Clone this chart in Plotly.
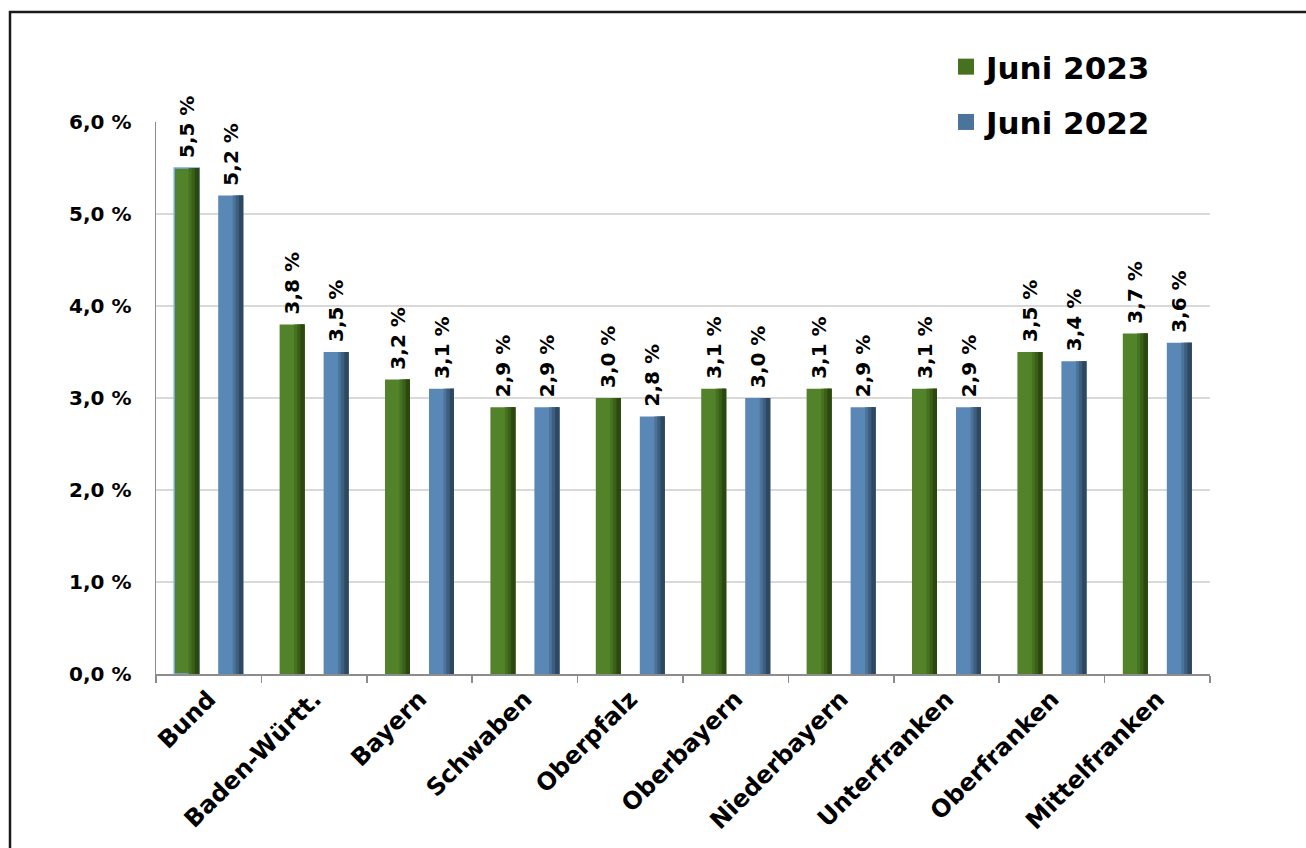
import plotly.graph_objects as go

# ---------------- data ----------------
categories = ["Bund", "Baden-Württ.", "Bayern", "Schwaben", "Oberpfalz",
              "Oberbayern", "Niederbayern", "Unterfranken", "Oberfranken", "Mittelfranken"]
values_2023 = [5.5, 3.8, 3.2, 2.9, 3.0, 3.1, 3.1, 3.1, 3.5, 3.7]
values_2022 = [5.2, 3.5, 3.1, 2.9, 2.8, 3.0, 2.9, 2.9, 3.4, 3.6]
series_names = ["Juni 2023", "Juni 2022"]
y_ticks = [0, 1, 2, 3, 4, 5, 6]
y_tick_text = [f"{v:.1f} %".replace(".", ",") for v in y_ticks]

# ---------------- style / layout (page pixel coordinates) ----------------
FW, FH = 1306, 848
PL, PR, PT, PB = 156, 1210, 122, 674      # plot area in page pixels
ML, MT = PL, PT
MR, MB = FW - PR, FH - PB
FONT = "DejaVu Sans"
bar_w = 0.237
half_gap = 0.2087

series = [
    (series_names[0], values_2023, -half_gap,
     ["#52822a", "#46721f", "#3a5f17", "#2c4710"]),
    (series_names[1], values_2022, half_gap,
     ["#5a88b6", "#4c7399", "#3e5e7d", "#2e4862"]),
]


def px_x(p):
    return (p - PL) / (PR - PL)


def px_y(p):
    return (PB - p) / (PB - PT)


fig = go.Figure()
for i, (name, vals, centre, cols) in enumerate(series):
    left = centre - bar_w / 2
    line_cols = ["#7aaae0" if (i == 0 and k == 0) else cols[0] for k in range(len(vals))]
    line_w = [1.5 if (i == 0 and k == 0) else 0 for k in range(len(vals))]
    fig.add_trace(go.Bar(
        x=categories, y=vals, name=name, showlegend=False,
        offset=left, width=bar_w, opacity=1,
        marker=dict(color=cols[0], line=dict(color=line_cols, width=line_w)),
        texttemplate="\u00a0%{y:.1f} %", textposition="outside", textangle=-90,
        textfont=dict(family=FONT, size=20, color="black", weight="bold"),
        cliponaxis=False, constraintext="none", hoverinfo="skip",
    ))
    for frac, col in [(0.42, cols[1]), (0.30, cols[2]), (0.17, cols[3])]:
        w = bar_w * frac
        fig.add_trace(go.Bar(
            x=categories, y=vals, offset=left + bar_w - w, width=w, opacity=1,
            marker=dict(color=col, line=dict(width=0)),
            showlegend=False, hoverinfo="skip",
        ))

# legend entries (larger square symbols)
for name, _, _, cols in series:
    fig.add_trace(go.Scatter(
        x=[None], y=[None], mode="markers", name=name, legendgroup=name,
        marker=dict(symbol="square", size=17, color=cols[1],
                    line=dict(width=0)),
        hoverinfo="skip",
    ))

fig.update_layout(
    width=FW, height=FH,
    margin=dict(l=ML, r=MR, t=MT, b=MB, autoexpand=False),
    barmode="overlay",
    separators=",.",
    plot_bgcolor="white", paper_bgcolor="white",
    font=dict(family=FONT, color="black"),
    legend=dict(
        x=px_x(946), y=px_y(40), xanchor="left", yanchor="top",
        bgcolor="rgba(0,0,0,0)", traceorder="grouped", tracegroupgap=12,
        itemsizing="trace",
        font=dict(family=FONT, size=31, color="black", weight="bold"),
    ),
    shapes=[
        dict(type="rect", xref="paper", yref="paper", layer="between",
             x0=px_x(865), x1=1.0, y0=px_y(142), y1=px_y(110),
             fillcolor="white", line=dict(width=0)),
        dict(type="rect", xref="paper", yref="paper", layer="above",
             x0=px_x(10), x1=px_x(1400), y0=px_y(12), y1=px_y(950),
             fillcolor="rgba(0,0,0,0)", line=dict(color="#1a1a1a", width=2.5)),
    ],
)

fig.update_xaxes(
    type="category", tickangle=-45,
    showline=True, linecolor="#8c8c8c", linewidth=1.5,
    ticks="outside", tickson="boundaries", ticklen=7, tickcolor="#8c8c8c", tickwidth=1.5,
    showgrid=False,
    tickfont=dict(family=FONT, size=24, color="black", weight="bold"),
)
fig.update_yaxes(
    range=[0, 6], tickmode="array", tickvals=y_ticks, ticktext=y_tick_text,
    showline=True, linecolor="#8c8c8c", linewidth=1.5,
    showgrid=True, gridcolor="#d9d9d9", gridwidth=1.5,
    zeroline=False, ticks="", ticklabelstandoff=19,
    tickfont=dict(family=FONT, size=20, color="black", weight="bold"),
)

fig.write_html("out.html",
               config={"displayModeBar": False, "staticPlot": True},
               post_script="document.body.style.margin='0';"
                           "document.body.style.overflow='hidden';")
